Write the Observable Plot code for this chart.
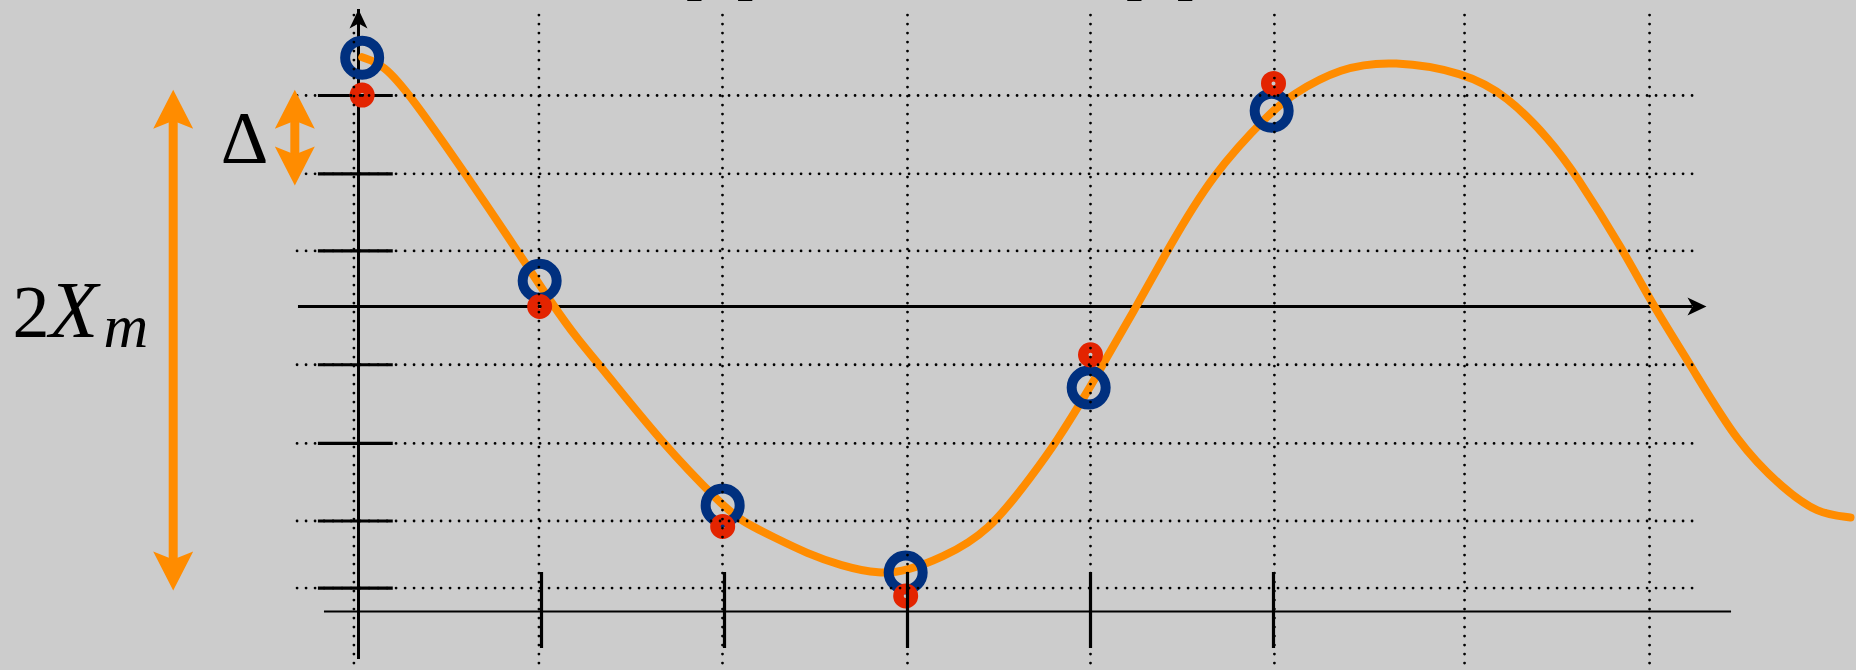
<!DOCTYPE html>
<html>
<head>
<meta charset="utf-8">
<script src="https://cdn.jsdelivr.net/npm/d3@7"></script>
<script src="https://cdn.jsdelivr.net/npm/@observablehq/plot@0.6"></script>
<style>
  html, body { margin: 0; padding: 0; background: #cccccc; overflow: hidden; }
  svg { display: block; overflow: visible; }
</style>
</head>
<body>
<div id="chart"></div>
<script>
// ---- data (x in sample index n, amplitude in units of the quantization step) ----
const curveN = [0.0202, 0.1366, 0.2842, 0.5847, 0.8672, 1.0656, 1.2022, 1.3169, 1.6612, 1.9891, 2.0929, 2.2694, 2.4519, 2.6339, 2.8525, 2.9984, 3.1803, 3.4426, 3.6885, 3.8087, 3.9984, 4.0656, 4.2514, 4.4191, 4.6650, 4.9945, 5.0929, 5.3661, 5.6557, 6.0383, 6.2770, 6.5137, 6.6486, 6.9126, 7.0765, 7.2787, 7.5355, 7.7869, 7.9710, 8.1530];
const curveV = [3.196, 3.103, 2.705, 1.701, 0.718, 0.004, -0.436, -0.747, -1.760, -2.551, -2.753, -2.958, -3.167, -3.321, -3.436, -3.385, -3.231, -2.900, -2.141, -1.756, -1.035, -0.747, 0.000, 0.718, 1.701, 2.513, 2.705, 3.068, 3.154, 3.004, 2.705, 2.128, 1.705, 0.718, 0.000, -0.747, -1.760, -2.340, -2.654, -2.705];

const sampleN = [0.02, 0.99, 1.99, 2.99, 3.99, 4.99];
const sampleV = [3.19, 0.33, -2.55, -3.41, -1.04, 2.51];

const quantN = [0.02, 0.99, 1.99, 2.99, 4.00, 5.00];
const quantV = [2.71, 0.00, -2.82, -3.71, -0.62, 2.86];

const levels = [2.705, 1.701, 0.712, -0.747, -1.756, -2.75, -3.61];
const gridN = [-0.025, 0.986, 1.989, 3.0, 4.0, 5.005, 6.044, 7.055];
const tickN = [1, 2, 3, 4, 5];

// annotation arrows (x, top tip, bottom tip)
const arrowX = [-1.0126, -0.348];
const arrowTop = [2.778, 2.778];
const arrowBottom = [-3.641, 1.551];

// labels
const deltaLabel = "Δ";
const rangeLabelParts = ["2", "X", "m"];
const topLabels = ["x[n]", "x̂[n]"];

// ---- build tables ----
const curve = curveN.map((n, i) => ({n, v: curveV[i]}));
const samples = sampleN.map((n, i) => ({n, v: sampleV[i]}));
const quant = quantN.map((n, i) => ({n, v: quantV[i]}));
const arrows = arrowX.map((x, i) => ({x, top: arrowTop[i], bottom: arrowBottom[i]}));

const ORANGE = "#ff8c00", BLUE = "#00307f", RED = "#e32400";

const headRight = {draw(c) { c.moveTo(0, 0); c.lineTo(-19, -9); c.lineTo(-14, 0); c.lineTo(-19, 9); c.closePath(); }};
const headUp = {draw(c) { c.moveTo(0, 0); c.lineTo(-9, 19); c.lineTo(0, 14); c.lineTo(9, 19); c.closePath(); }};
const bigUp = {draw(c) { c.moveTo(0, 0); c.lineTo(-20, 39); c.lineTo(0, 31); c.lineTo(20, 39); c.closePath(); }};
const bigDown = {draw(c) { c.moveTo(0, 0); c.lineTo(-20, -39); c.lineTo(0, -31); c.lineTo(20, -39); c.closePath(); }};

const dotted = {stroke: "black", strokeWidth: 2.8, strokeDasharray: "0,9", strokeLinecap: "round"};

const chart = Plot.plot({
  width: 1856,
  height: 670,
  margin: 0,
  x: {domain: [0, 5], range: [358, 1273], axis: null},
  y: {domain: [0, 1], range: [306, 228], axis: null},
  style: {background: "#cccccc", overflow: "visible"},
  marks: [
    // axes
    Plot.ruleY([0], {x1: -0.328, x2: 7.366, insetRight: 14, stroke: "black", strokeWidth: 3}),
    Plot.ruleX([0], {y1: -4.346, y2: 3.808, insetTop: 14, stroke: "black", strokeWidth: 3}),
    Plot.ruleY([-3.91], {x1: -0.186, x2: 7.503, stroke: "black", strokeWidth: 1.8}),
    Plot.ruleY(levels, {x1: -0.219, x2: 0.19, stroke: "black", strokeWidth: 3.2}),
    Plot.dot([{x: 7.366, y: 0}], {x: "x", y: "y", symbol: headRight, fill: "black", stroke: "none"}),
    Plot.dot([{x: 0, y: 3.808}], {x: "x", y: "y", symbol: headUp, fill: "black", stroke: "none"}),
    // signal
    Plot.line(curve, {x: "n", y: "v", curve: "basis", stroke: ORANGE, strokeWidth: 8}),
    Plot.dot(samples, {x: "n", y: "v", r: 17, stroke: BLUE, strokeWidth: 10, fill: "none"}),
    Plot.dot(quant, {x: "n", y: "v", r: 7.25, stroke: RED, strokeWidth: 10.5, fill: "none"}),
    // dotted grid
    Plot.ruleY(levels, {x1: -0.333, x2: 7.333, ...dotted}),
    Plot.ruleX(gridN, {y1: 3.73, y2: -4.67, ...dotted}),
    // bottom ticks
    Plot.ruleX(tickN, {y1: -3.41, y2: -4.385, stroke: "black", strokeWidth: 3.2}),
    // orange annotation arrows
    Plot.ruleX(arrows, {x: "x", y1: "top", y2: "bottom", insetTop: 28, insetBottom: 28, stroke: ORANGE, strokeWidth: 9}),
    Plot.dot(arrows, {x: "x", y: "top", symbol: bigUp, fill: ORANGE, stroke: "none"}),
    Plot.dot(arrows, {x: "x", y: "bottom", symbol: bigDown, fill: ORANGE, stroke: "none"}),
    // labels
    Plot.text([deltaLabel], {x: -0.623, y: 1.846, text: d => d, fontSize: 74, fontFamily: "Liberation Serif", lineAnchor: "bottom", textAnchor: "middle", fill: "black"}),
    Plot.text([rangeLabelParts[0]], {x: -1.891, y: -0.385, text: d => d, fontSize: 74, fontFamily: "Liberation Serif", lineAnchor: "bottom", textAnchor: "start", fill: "black"}),
    Plot.text([rangeLabelParts[1]], {x: -1.690, y: -0.385, text: d => d, fontSize: 80, fontFamily: "Liberation Serif", fontStyle: "italic", lineAnchor: "bottom", textAnchor: "start", fill: "black"}),
    Plot.text([rangeLabelParts[2]], {x: -1.393, y: -0.513, text: d => d, fontSize: 62, fontFamily: "Liberation Serif", fontStyle: "italic", lineAnchor: "bottom", textAnchor: "start", fill: "black"}),
    Plot.text(topLabels, {x: [2.178, 4.582], y: [4.026, 4.026], text: d => d, fontSize: 64, fontFamily: "Liberation Serif", lineAnchor: "bottom", textAnchor: "end", fill: "black"})
  ]
});
document.getElementById("chart").appendChild(chart);
</script>
</body>
</html>
